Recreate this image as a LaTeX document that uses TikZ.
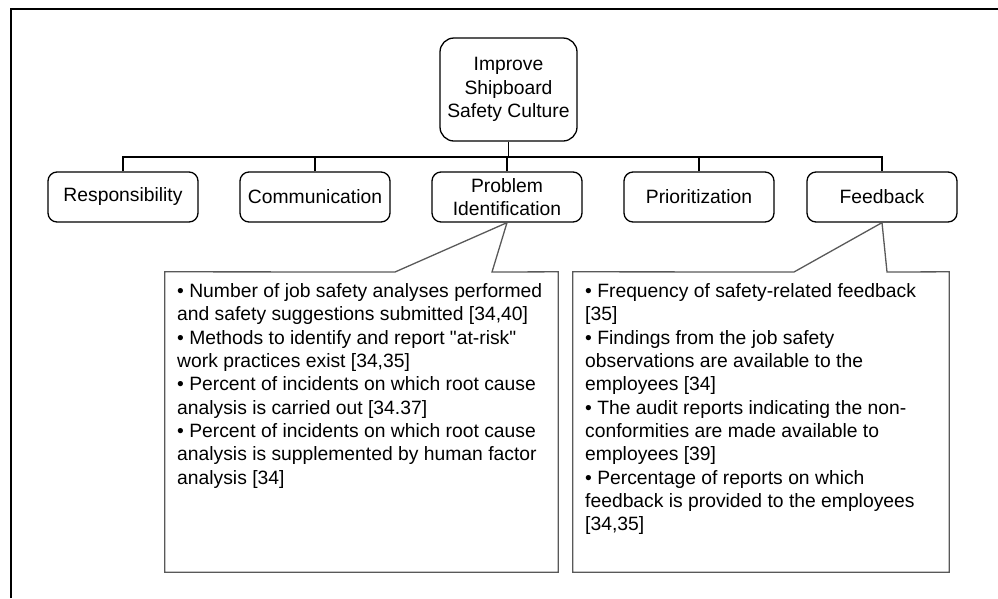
\documentclass[tikz,border=0pt]{standalone}
\usepackage{fontspec}
\setmainfont{Liberation Sans}
\usetikzlibrary{calc}
\newcommand\dgfont{\fontsize{19.3}{23.3}\selectfont}
\tikzset{
  frame/.style={line width=2.8pt},
  goalbox/.style={draw, line width=1.3pt, rounded corners=14pt, minimum width=137pt, minimum height=103pt, align=center, font=\dgfont, inner sep=0pt},
  catbox/.style={draw, line width=1.3pt, rounded corners=9pt, minimum width=150pt, minimum height=50pt, align=center, font=\dgfont, inner sep=0pt},
  link/.style={line width=1.2pt},
  callout/.style={draw=black!65, line width=1.3pt},
  area/.style={rectangle, inner sep=0pt},
  listtext/.style={anchor=north west, align=left, font=\dgfont, inner sep=0pt}
}
\begin{document}
\begin{tikzpicture}[x=1pt,y=-1pt]
\useasboundingbox (0,0) rectangle (998,598);
% outer frame
\coordinate (frTL) at (11,9);
\coordinate (frTR) at (998,9);
\coordinate (frBL) at (11,598);
\draw[frame] (frBL) -- (frTL) -- (frTR);

\node[goalbox] (top) at (508.5,89.5) {Improve\\Shipboard\\Safety Culture};

\node[catbox] (resp) at (123,197) {Responsibility};
\node[catbox] (comm) at (315,197) {Communication};
\node[catbox] (prob) at (507,197) {Problem\\Identification};
\node[catbox] (prio) at (699,197) {Prioritization};
\node[catbox] (feed) at (882,197) {Feedback};

\coordinate (bus) at (508.5,157);
\draw[link] (top.south) -- (top.south |- bus);
\draw[link] (resp.north) |- (bus) -| (feed.north);
\draw[link] (comm.north) -- (comm.north |- bus);
\draw[link] (prob.north) -- (prob.north |- bus);
\draw[link] (prio.north) -- (prio.north |- bus);

% left callout
\node[area, minimum width=393pt, minimum height=300pt] (cb1) at (361.5,422) {};
\coordinate (l1a) at (395,272);
\coordinate (l1b) at (492,272);
\draw[callout] (cb1.north west) -- (l1a) -- (prob.south) -- (l1b) -- (cb1.north east) -- (cb1.south east) -- (cb1.south west) -- cycle;
\node[listtext] (t1) at (177,283.5) {• Number of job safety analyses performed\\
and safety suggestions submitted [34,40]\\
• Methods to identify and report \textquotedbl at-risk\textquotedbl\\
work practices exist [34,35]\\
• Percent of incidents on which root cause\\
analysis is carried out [34.37]\\
• Percent of incidents on which root cause\\
analysis is supplemented by human factor\\
analysis [34]};

% right callout
\node[area, minimum width=376pt, minimum height=300pt] (cb2) at (761,422) {};
\coordinate (l2a) at (794,272);
\coordinate (l2b) at (887,272);
\draw[callout] (cb2.north west) -- (l2a) -- (feed.south) -- (l2b) -- (cb2.north east) -- (cb2.south east) -- (cb2.south west) -- cycle;
\node[listtext] (t2) at (585,283.5) {• Frequency of safety-related feedback\\
{[35]}\\
• Findings from the job safety\\
observations are available to the\\
employees [34]\\
• The audit reports indicating the non-\\
conformities are made available to\\
employees [39]\\
• Percentage of reports on which\\
feedback is provided to the employees\\
{[34,35]}};
\end{tikzpicture}
\end{document}
